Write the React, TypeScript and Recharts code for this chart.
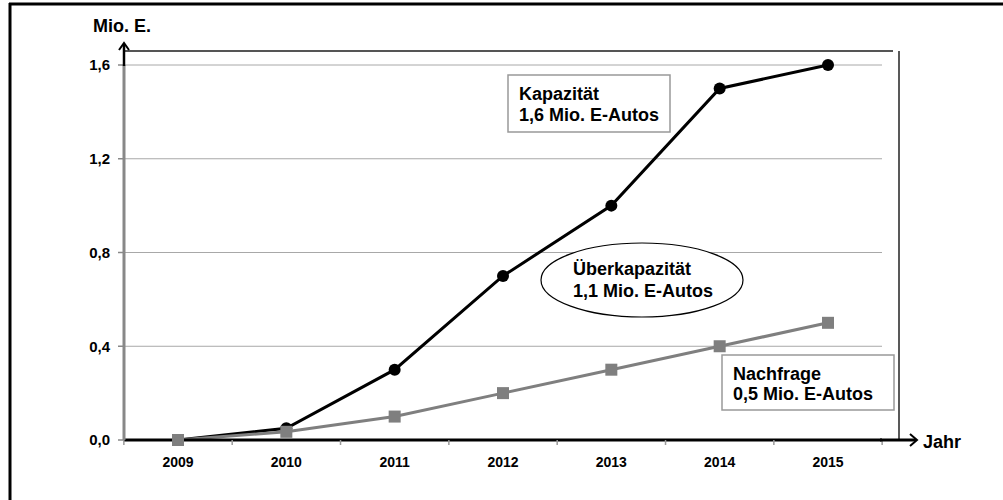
import React from 'react';
import { LineChart, Line, XAxis, YAxis, CartesianGrid } from 'recharts';

const years = ['2009', '2010', '2011', '2012', '2013', '2014', '2015'];
const kapazitaet = [0, 0.05, 0.3, 0.7, 1.0, 1.5, 1.6];
const nachfrage = [0, 0.035, 0.1, 0.2, 0.3, 0.4, 0.5];
const yTicks = [0, 0.4, 0.8, 1.2, 1.6];

const data = years.map((year, i) => ({ year, kapazitaet: kapazitaet[i], nachfrage: nachfrage[i] }));

const FONT = 'Arial, "Liberation Sans", sans-serif';

const fmt = (v: number) => v.toFixed(1).replace('.', ',');

// square marker for the demand series
const SquareDot = (props: any) => {
  const { cx, cy } = props;
  if (cx == null || cy == null) return null;
  return <rect x={cx - 6} y={cy - 6} width={12} height={12} fill="#7f7f7f" />;
};

// year label plus tick marks on the category boundaries
const YearTick = (props: any) => {
  const { x, y, payload, index } = props;
  const half = 758 / years.length / 2;
  return (
    <g>
      <line x1={x - half} y1={440} x2={x - half} y2={445} stroke="#999" strokeWidth={1.5} />
      {index === years.length - 1 && (
        <line x1={x + half} y1={440} x2={x + half} y2={445} stroke="#999" strokeWidth={1.5} />
      )}
      <text x={x} y={y + 19} textAnchor="middle" fontSize={14} fontWeight="bold" fill="#000" fontFamily={FONT}>
        {payload.value}
      </text>
    </g>
  );
};

const App: React.FC = () => {
  return (
    <div style={{ position: 'absolute', left: 0, top: 0, width: 1003, height: 500, background: '#fff', fontFamily: FONT }}>
      <LineChart width={1003} height={500} data={data} margin={{ top: 65, right: 121, bottom: 30, left: 80 }}>
        <CartesianGrid horizontal vertical={false} stroke="#a8a8a8" strokeWidth={1} />
        <XAxis
          dataKey="year"
          padding={{ left: 54, right: 54 }}
          height={30}
          axisLine={{ stroke: '#000', strokeWidth: 3 }}
          tickLine={false}
          tick={<YearTick />}
          interval={0}
        />
        <YAxis
          width={44}
          domain={[0, 1.6]}
          ticks={yTicks}
          tickFormatter={fmt}
          axisLine={{ stroke: '#888', strokeWidth: 3 }}
          tickLine={{ stroke: '#888', strokeWidth: 1.5 }}
          tickSize={6}
          tickMargin={8}
          tick={{ fontSize: 15, fontWeight: 'bold', fill: '#000', fontFamily: FONT }}
        />
        <Line
          dataKey="kapazitaet"
          type="linear"
          stroke="#000"
          strokeWidth={3}
          dot={{ r: 6, fill: '#000', stroke: '#000', strokeWidth: 0 }}
          isAnimationActive={false}
        />
        <Line
          dataKey="nachfrage"
          type="linear"
          stroke="#7f7f7f"
          strokeWidth={3}
          dot={<SquareDot />}
          isAnimationActive={false}
        />
      </LineChart>
      <svg width={1003} height={500} style={{ position: 'absolute', left: 0, top: 0, pointerEvents: 'none' }}>
        {/* outer frame */}
        <line x1={9} y1={4} x2={1003} y2={4} stroke="#000" strokeWidth={3} />
        <line x1={10} y1={3} x2={10} y2={500} stroke="#000" strokeWidth={3} />
        {/* inner frame */}
        <line x1={124} y1={51} x2={893} y2={51} stroke="#555" strokeWidth={2} />
        <line x1={899} y1={51} x2={899} y2={440} stroke="#222" strokeWidth={1.5} />
        {/* axis arrows */}
        <line x1={124} y1={66} x2={124} y2={44} stroke="#000" strokeWidth={2.5} />
        <polyline points="119,50 124,43 129,50" fill="none" stroke="#000" strokeWidth={2} />
        <line x1={880} y1={440} x2={916} y2={440} stroke="#000" strokeWidth={3} />
        <polyline points="910,434 917,440 910,446" fill="none" stroke="#000" strokeWidth={2} />
        <text x={93} y={32} fontSize={18} fontWeight="bold" fontFamily={FONT}>Mio. E.</text>
        <text x={923} y={448} fontSize={18} fontWeight="bold" fontFamily={FONT}>Jahr</text>
        {/* Kapazität box */}
        <rect x={508} y={75} width={162} height={57} fill="#fff" stroke="#999" strokeWidth={1.5} />
        <text x={519} y={100} fontSize={18} fontWeight="bold" fontFamily={FONT}>Kapazität</text>
        <text x={519} y={121} fontSize={18} fontWeight="bold" fontFamily={FONT}>1,6 Mio. E-Autos</text>
        {/* Überkapazität ellipse */}
        <ellipse cx={642} cy={280} rx={101} ry={37} fill="#fff" stroke="#000" strokeWidth={1.2} />
        <text x={573} y={275} fontSize={18} fontWeight="bold" fontFamily={FONT}>Überkapazität</text>
        <text x={573} y={297} fontSize={18} fontWeight="bold" fontFamily={FONT}>1,1 Mio. E-Autos</text>
        {/* Nachfrage box */}
        <rect x={722} y={355} width={172} height={55} fill="#fff" stroke="#999" strokeWidth={1.5} />
        <text x={733} y={380} fontSize={18} fontWeight="bold" fontFamily={FONT}>Nachfrage</text>
        <text x={733} y={400} fontSize={18} fontWeight="bold" fontFamily={FONT}>0,5 Mio. E-Autos</text>
      </svg>
    </div>
  );
};

export default App;
